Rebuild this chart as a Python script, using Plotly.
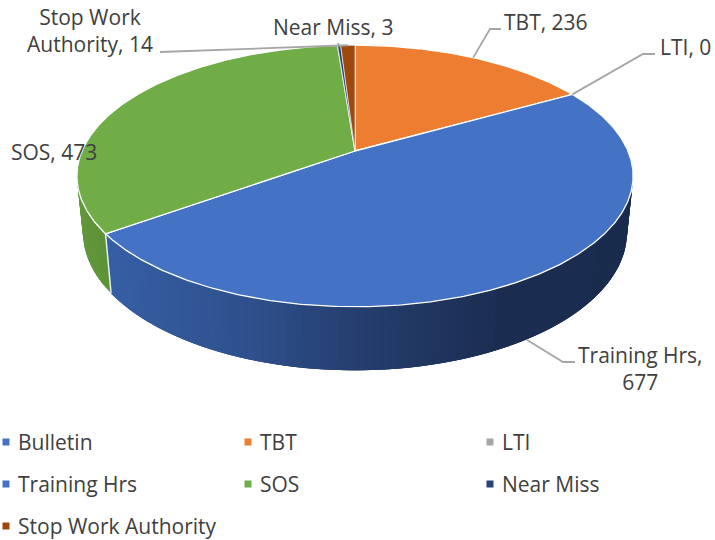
import numpy as np
import plotly.graph_objects as go

# ---- data ----
categories = ["Bulletin", "TBT", "LTI", "Training Hrs", "SOS", "Near Miss", "Stop Work Authority"]
values = [0, 236, 0, 677, 473, 3, 14]
colors = ["#4472C4", "#ED7D31", "#A5A5A5", "#4472C4", "#70AD47", "#264478", "#9E480E"]

# ---- projection of the tilted disc (pixel space) ----
W, H = 715, 540
CX, PERSP = 355, 0.191
TOP = dict(cy=151, rx=273, ry=126)
BOT = dict(cy=206, rx=267, ry=133)
TEXT = "#404040"
FONT = "Open Sans"
FS = 21
LEADER = "#A6A6A6"


def project(theta_deg, ring):
    t = np.radians(theta_deg)
    d = 1 + PERSP * np.cos(t)
    return CX + ring["rx"] * np.sin(t) / d, ring["cy"] - ring["ry"] * np.cos(t) / d


def shade(stops, x):
    xs, cs = zip(*stops)
    c = [np.interp(x, xs, [k[i] for k in cs]) for i in range(3)]
    return "rgb(%d,%d,%d)" % tuple(c)


BLUE_SIDE = [(110, (55, 95, 165)), (250, (47, 80, 140)), (360, (37, 62, 110)),
             (500, (27, 46, 82)), (630, (26, 44, 78))]
GREEN_SIDE = [(78, (98, 152, 60)), (110, (94, 146, 56))]

total = sum(values)
edges = np.concatenate([[0], np.cumsum(values) / total * 360])
fig = go.Figure()


def poly(xs, ys, fill, line, width, name=None):
    fig.add_trace(go.Scatter(x=xs, y=ys, mode="lines", fill="toself", fillcolor=fill,
                             line=dict(color=line, width=width), hoverinfo="skip" if name is None else "text",
                             text=name, showlegend=False))


# side wall, painted as thin overlapping strips so it can carry a gradient
for cat, a0, a1 in zip(categories, edges[:-1], edges[1:]):
    if cat not in ("Training Hrs", "SOS"):
        continue
    stops = BLUE_SIDE if cat == "Training Hrs" else GREEN_SIDE
    hi = min(a1, 270)
    lo = max(a0, 90)
    steps = np.clip(np.arange(lo, hi + 1.5, 1.5), lo, hi)
    for s0, s1 in zip(steps[:-1], steps[1:]):
        if s1 <= s0:
            continue
        th = np.linspace(s0, min(s1 + 3, hi), 6)
        xt, yt = project(th, TOP)
        xb, yb = project(th[::-1], BOT)
        col = shade(stops, float(project((s0 + s1) / 2, TOP)[0]))
        poly(np.concatenate([xt, xb, xt[:1]]), np.concatenate([yt, yb, yt[:1]]), col, "rgba(0,0,0,0)", 0)

# white seam between the green and blue wall
a_seam = edges[4]
xa, ya = project(a_seam, TOP)
xb, yb = project(a_seam, BOT)
fig.add_trace(go.Scatter(x=[xa, xb], y=[ya, yb], mode="lines", line=dict(color="#E8EEF0", width=1.5),
                         hoverinfo="skip", showlegend=False))

# top face wedges
for cat, val, col, a0, a1 in zip(categories, values, colors, edges[:-1], edges[1:]):
    if val == 0:
        continue
    th = np.linspace(a0, a1, max(3, int((a1 - a0) * 2)))
    xs, ys = project(th, TOP)
    xs = np.concatenate([[CX], xs, [CX]])
    ys = np.concatenate([[TOP["cy"]], ys, [TOP["cy"]]])
    poly(xs, ys, col, "#FFFFFF", 1.3 if val > 20 else 0.6, name=f"{cat}, {val}")

# leader lines start on the wedge they belong to
mid = {c: (a0 + a1) / 2 for c, a0, a1 in zip(categories, edges[:-1], edges[1:])}
leaders = [
    (project(mid["TBT"], TOP), [(490, 29), (501, 29)]),
    (project(mid["LTI"], TOP), [(643, 54), (655, 54)]),
    (project(mid["Training Hrs"], BOT), [(563, 362), (575, 362)]),
    (project(mid["Stop Work Authority"], TOP), [(160, 52)]),
    (project(mid["Near Miss"], TOP), [(338, 43)]),
]
for start, rest in leaders:
    pts = [start] + rest
    fig.add_trace(go.Scatter(x=[p[0] for p in pts], y=[p[1] for p in pts], mode="lines",
                             line=dict(color=LEADER, width=1.8), hoverinfo="skip", showlegend=False))

# data labels
labels = [
    ("Stop Work<br>Authority, 14", 90, 30, "center"),
    ("Near Miss, 3", 333, 27, "center"),
    ("TBT, 236", 546, 22, "center"),
    ("LTI, 0", 685, 47, "center"),
    ("SOS, 473", 54, 152, "center"),
    ("Training Hrs,<br>677", 640, 368, "center"),
]
annotations = [dict(x=x, y=y, text=t, showarrow=False, xanchor=a, yanchor="middle", align="center",
                    font=dict(family=FONT, size=FS, color=TEXT)) for t, x, y, a in labels]

# legend
legend_pos = {"Bulletin": (6, 442), "TBT": (248, 442), "LTI": (490, 442),
              "Training Hrs": (6, 484), "SOS": (248, 484), "Near Miss": (490, 484),
              "Stop Work Authority": (6, 526)}
fig.add_trace(go.Scatter(x=[legend_pos[c][0] for c in categories], y=[legend_pos[c][1] for c in categories],
                         mode="markers", marker=dict(symbol="square", size=7, color=colors, line=dict(width=0)),
                         hoverinfo="skip", showlegend=False))
for c in categories:
    lx, ly = legend_pos[c]
    annotations.append(dict(x=lx + 10, y=ly, text=c, showarrow=False, xanchor="left", yanchor="middle",
                            font=dict(family=FONT, size=FS, color=TEXT)))

fig.update_layout(
    width=W, height=H, margin=dict(l=0, r=0, t=0, b=0), autosize=False,
    paper_bgcolor="white", plot_bgcolor="white", showlegend=False, annotations=annotations,
    xaxis=dict(range=[0, W], visible=False, fixedrange=True),
    yaxis=dict(range=[H, 0], visible=False, fixedrange=True),
)
fig.write_html("out.html", config=dict(displayModeBar=False),
               post_script="document.body.style.margin='0';document.body.style.overflow='hidden';")
